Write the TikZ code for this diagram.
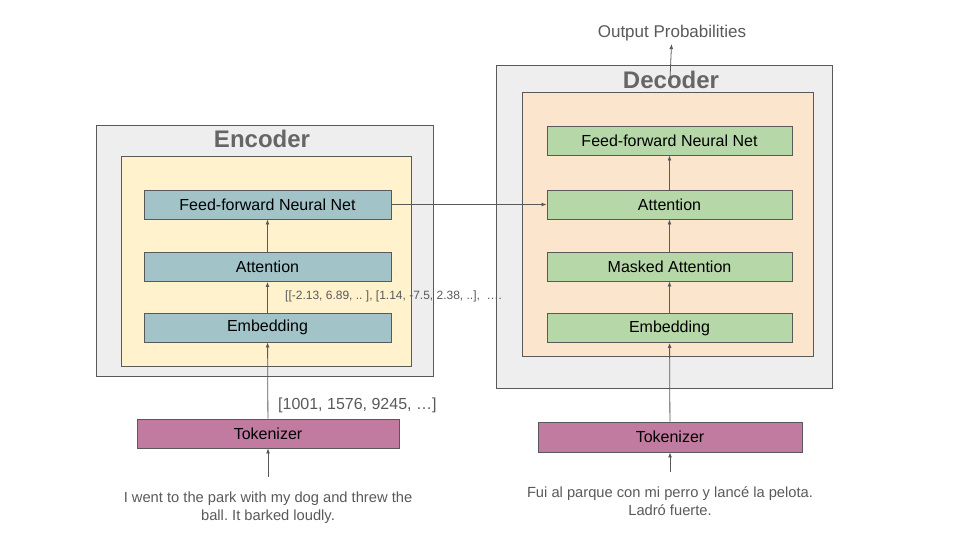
\documentclass[tikz,border=0pt]{standalone}
\usepackage{fontspec}
\setmainfont{Liberation Sans}
\frenchspacing
\usetikzlibrary{positioning,arrows.meta}

\definecolor{framegray}{HTML}{595959}
\definecolor{panelgray}{HTML}{EEEEEE}
\definecolor{encyellow}{HTML}{FFF2CC}
\definecolor{decpeach}{HTML}{FCE5CD}
\definecolor{encblue}{HTML}{A2C4C9}
\definecolor{decgreen}{HTML}{B6D7A8}
\definecolor{tokpink}{HTML}{C27BA0}
\definecolor{titlegray}{HTML}{666666}

\tikzset{
  block/.style={draw=framegray, line width=0.9pt, inner sep=0pt,
    font=\fontsize{16}{19}\selectfont},
  panel/.style={block, fill=panelgray},
  enclayer/.style={block, fill=encblue, minimum width=247, minimum height=29},
  declayer/.style={block, fill=decgreen, minimum width=245, minimum height=29},
  tokbox/.style={block, fill=tokpink, minimum height=29},
  paneltitle/.style={text=titlegray, font=\fontsize{24}{28}\selectfont\bfseries},
  note/.style={text=framegray, inner sep=0pt},
  arr/.style={->, draw=framegray, line width=0.8pt}
}

\begin{document}
\begin{tikzpicture}[x=1pt, y=-1pt, >={Latex[length=5pt,width=4pt]}]
  \useasboundingbox (0,0) rectangle (960,540);
  %%
  % Node: encoder panels
  \node[panel, minimum width=337, minimum height=251] (encpanel) at (264.5,251) {};
  \node[block, fill=encyellow, minimum width=290, minimum height=210] (encinner) at (266,261) {};
  \node[paneltitle] (enctitle) at (262,139) {Encoder};
  % Node: decoder panels
  \node[panel, minimum width=336, minimum height=323] (decpanel) at (664,226.5) {};
  \node[block, fill=decpeach, minimum width=291, minimum height=264] (decinner) at (667.5,224) {};
  %
  % Node: encoder layers
  \node[enclayer] (encffn) at (267.5,204.5) {Feed-forward Neural Net};
  \node[enclayer] (encatt) at (267.5,267) {Attention};
  \node[enclayer] (encemb) at (267.5,327.5) {Embedding};
  % Node: decoder layers
  \node[declayer] (decffn) at (669.5,140.5) {Feed-forward Neural Net};
  \node[declayer] (decatt) at (669.5,204.5) {Attention};
  \node[declayer] (decmask) at (669.5,266.5) {Masked Attention};
  \node[declayer] (decemb) at (669.5,328) {Embedding};
  % Node: tokenizers
  \node[tokbox, minimum width=262] (enctok) at (268,433.5) {Tokenizer};
  \node[tokbox, minimum width=264, minimum height=30] (dectok) at (670,437) {Tokenizer};
  %
  % Node: texts
  \node[note, align=center, font=\fontsize{14.7}{18}\selectfont] (encsrc) at (268,508)
    {I went to the park with my dog and threw the\\ball. It barked loudly.};
  \node[note, align=center, font=\fontsize{14.7}{18}\selectfont] (decsrc) at (670,501)
    {Fui al parque con mi perro y lancé la pelota.\\Ladró fuerte.};
  \node[note, anchor=west, font=\fontsize{16}{19}\selectfont] (encids) at (278,405)
    {[1001, 1576, 9245, …]};
  \node[note, anchor=west, font=\fontsize{12}{14}\selectfont] (encvecs) at (285,296)
    {[[-2.13, 6.89, .. ], [1.14, -7.5, 2.38, ..], \ ….};
  \node[note, inner sep=3pt, font=\fontsize{17}{20}\selectfont] (outprob) at (672,33)
    {Output Probabilities};
  \coordinate (encin) at (268,477);
  \coordinate (decin) at (670,472);
  \coordinate (decout) at (670,79);
  %
  % Edge: encoder stack
  \draw[arr] (encin) -- (enctok);
  \draw[arr] (enctok) -- (encemb);
  \draw[arr] (encemb) -- (encatt);
  \draw[arr] (encatt) -- (encffn);
  % Edge: encoder -> decoder
  \draw[arr] (encffn.east) -- (decatt.west);
  % Edge: decoder stack
  \draw[arr] (decin) -- (dectok);
  \draw[arr] (dectok) -- (decemb);
  \draw[arr] (decemb) -- (decmask);
  \draw[arr] (decmask) -- (decatt);
  \draw[arr] (decatt) -- (decffn);
  \node[paneltitle] (dectitle) at (671,80) {Decoder};
  \draw[arr] (decout) -- (outprob);
  %
\end{tikzpicture}
\end{document}
